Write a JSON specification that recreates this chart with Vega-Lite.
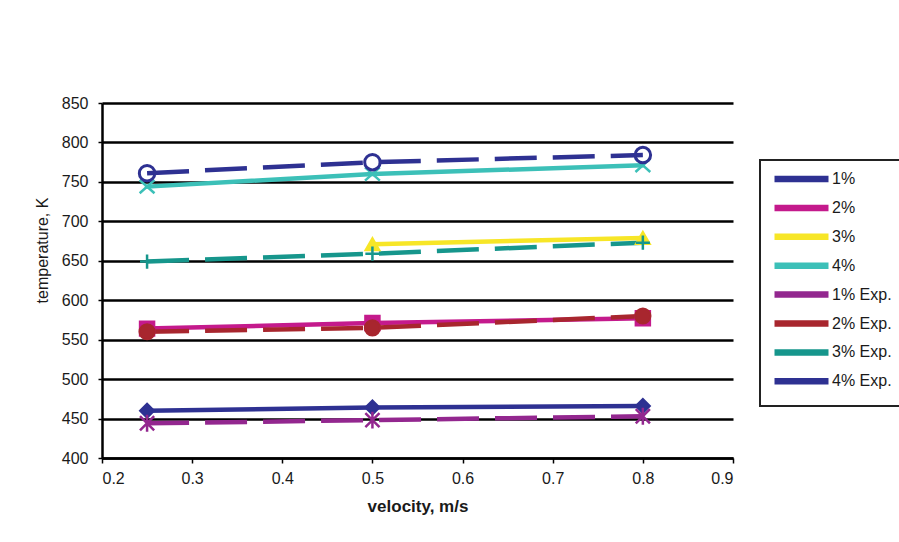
{
  "$schema": "https://vega.github.io/schema/vega-lite/v6.json",
  "autosize": "none",
  "width": 631,
  "height": 355,
  "padding": {"left": 102, "top": 103, "right": 166, "bottom": 84},
  "background": "white",
  "config": {
    "view": {"stroke": null},
    "font": "Liberation Sans",
    "axis": {
      "domainColor": "#000000",
      "domainWidth": 2.5,
      "tickColor": "#000000",
      "tickWidth": 1.5,
      "tickSize": 4,
      "gridColor": "#000000",
      "gridWidth": 2.5,
      "gridOpacity": 1,
      "labelFont": "Liberation Sans",
      "labelFontSize": 16,
      "labelColor": "#1a1a1a",
      "titleColor": "#1a1a1a",
      "titleFont": "Liberation Sans"
    },
    "legend": {
      "orient": "none",
      "legendX": 658,
      "legendY": 57,
      "strokeColor": "#222222",
      "strokeWidth": 2,
      "padding": 11,
      "labelFont": "Liberation Sans",
      "labelFontSize": 16,
      "labelColor": "#1a1a1a",
      "symbolType": "M-1,0L11,0",
      "symbolSize": 81,
      "symbolStrokeWidth": 6.5,
      "symbolDash": [1, 0],
      "rowPadding": 2.9,
      "labelOffset": 45
    }
  },
  "data": {
    "values": [
      {"series": "1%", "type": "model", "velocity": 0.25, "temperature": 460},
      {"series": "1%", "type": "model", "velocity": 0.5, "temperature": 464},
      {"series": "1%", "type": "model", "velocity": 0.8, "temperature": 466},
      {"series": "2%", "type": "model", "velocity": 0.25, "temperature": 564},
      {"series": "2%", "type": "model", "velocity": 0.5, "temperature": 571},
      {"series": "2%", "type": "model", "velocity": 0.8, "temperature": 577},
      {"series": "3%", "type": "model", "velocity": 0.5, "temperature": 671},
      {"series": "3%", "type": "model", "velocity": 0.8, "temperature": 679},
      {"series": "4%", "type": "model", "velocity": 0.25, "temperature": 744},
      {"series": "4%", "type": "model", "velocity": 0.5, "temperature": 760},
      {"series": "4%", "type": "model", "velocity": 0.8, "temperature": 771},
      {"series": "1% Exp.", "type": "exp", "velocity": 0.25, "temperature": 444},
      {"series": "1% Exp.", "type": "exp", "velocity": 0.5, "temperature": 448},
      {"series": "1% Exp.", "type": "exp", "velocity": 0.8, "temperature": 453},
      {"series": "2% Exp.", "type": "exp", "velocity": 0.25, "temperature": 560},
      {"series": "2% Exp.", "type": "exp", "velocity": 0.5, "temperature": 565},
      {"series": "2% Exp.", "type": "exp", "velocity": 0.8, "temperature": 580},
      {"series": "3% Exp.", "type": "exp", "velocity": 0.25, "temperature": 649},
      {"series": "3% Exp.", "type": "exp", "velocity": 0.5, "temperature": 659},
      {"series": "3% Exp.", "type": "exp", "velocity": 0.8, "temperature": 673},
      {"series": "4% Exp.", "type": "exp", "velocity": 0.25, "temperature": 761},
      {"series": "4% Exp.", "type": "exp", "velocity": 0.5, "temperature": 775},
      {"series": "4% Exp.", "type": "exp", "velocity": 0.8, "temperature": 784}
    ]
  },
  "encoding": {
    "x": {
      "field": "velocity",
      "type": "quantitative",
      "scale": {"domain": [0.2, 0.9], "nice": false, "zero": false},
      "axis": {
        "values": [0.2, 0.3, 0.4, 0.5, 0.6, 0.7, 0.8, 0.9],
        "format": ".1f",
        "grid": false,
        "tickSize": 5,
        "title": "velocity, m/s",
        "titleFontSize": 17,
        "titleFontWeight": "bold",
        "titlePadding": 12,
        "labelPadding": 7
      }
    },
    "y": {
      "field": "temperature",
      "type": "quantitative",
      "scale": {"domain": [400, 850], "nice": false, "zero": false},
      "axis": {
        "values": [400, 450, 500, 550, 600, 650, 700, 750, 800, 850],
        "grid": true,
        "title": "temperature, K",
        "titleFontSize": 16,
        "titleFontWeight": "normal",
        "titleX": -55,
        "titleY": 147,
        "titleBaseline": "alphabetic",
        "labelPadding": 10
      }
    }
  },
  "layer": [
    {
      "transform": [{"filter": "datum.type === 'model'"}],
      "mark": {"type": "line", "strokeWidth": 4.5, "strokeCap": "round"},
      "encoding": {
        "color": {
          "field": "series",
          "type": "nominal",
          "scale": {
            "domain": ["1%", "2%", "3%", "4%", "1% Exp.", "2% Exp.", "3% Exp.", "4% Exp."],
            "range": ["#2E3192", "#C41A8C", "#F7E627", "#3CC0B8", "#93278F", "#A8262E", "#16968C", "#2E3192"]
          },
          "legend": {"title": null}
        }
      }
    },
    {
      "transform": [{"filter": "datum.type === 'exp'"}],
      "mark": {"type": "line", "strokeWidth": 4.5, "strokeDash": [42, 16]},
      "encoding": {
        "color": {"field": "series", "type": "nominal", "legend": {"title": null}}
      }
    },
    {
      "transform": [{"filter": "datum.series === '1%'"}],
      "mark": {"type": "point", "shape": "diamond", "size": 200, "filled": true, "fill": "#2E3192", "stroke": "#2E3192", "opacity": 1},
      "encoding": {}
    },
    {
      "transform": [{"filter": "datum.series === '2%'"}],
      "mark": {"type": "point", "shape": "square", "size": 210, "filled": true, "fill": "#C41A8C", "stroke": "#C41A8C", "opacity": 1},
      "encoding": {}
    },
    {
      "transform": [{"filter": "datum.series === '3%'"}],
      "mark": {"type": "point", "shape": "triangle-up", "size": 200, "filled": true, "fill": "#F7E627", "stroke": "#F7E627", "opacity": 1},
      "encoding": {}
    },
    {
      "transform": [{"filter": "datum.series === '4%'"}],
      "mark": {"type": "point", "shape": "M-1,-0.9L1,0.9M-1,0.9L1,-0.9", "size": 220, "filled": false, "stroke": "#3CC0B8", "strokeWidth": 2.5, "opacity": 1},
      "encoding": {}
    },
    {
      "transform": [{"filter": "datum.series === '1% Exp.'"}],
      "mark": {"type": "point", "shape": "M-1,-1L1,1M-1,1L1,-1M0,-1.2L0,1.2", "size": 200, "filled": false, "stroke": "#93278F", "strokeWidth": 2.5, "opacity": 1},
      "encoding": {}
    },
    {
      "transform": [{"filter": "datum.series === '2% Exp.'"}],
      "mark": {"type": "point", "shape": "circle", "size": 230, "filled": true, "fill": "#A8262E", "stroke": "#A8262E", "opacity": 1},
      "encoding": {}
    },
    {
      "transform": [{"filter": "datum.series === '3% Exp.'"}],
      "mark": {"type": "point", "shape": "M-1,0L1,0M0,-1L0,1", "size": 200, "filled": false, "stroke": "#16968C", "strokeWidth": 2.5, "opacity": 1},
      "encoding": {}
    },
    {
      "transform": [{"filter": "datum.series === '4% Exp.'"}],
      "mark": {"type": "point", "shape": "circle", "size": 240, "filled": false, "stroke": "#2E3192", "strokeWidth": 3, "opacity": 1},
      "encoding": {}
    }
  ]
}
